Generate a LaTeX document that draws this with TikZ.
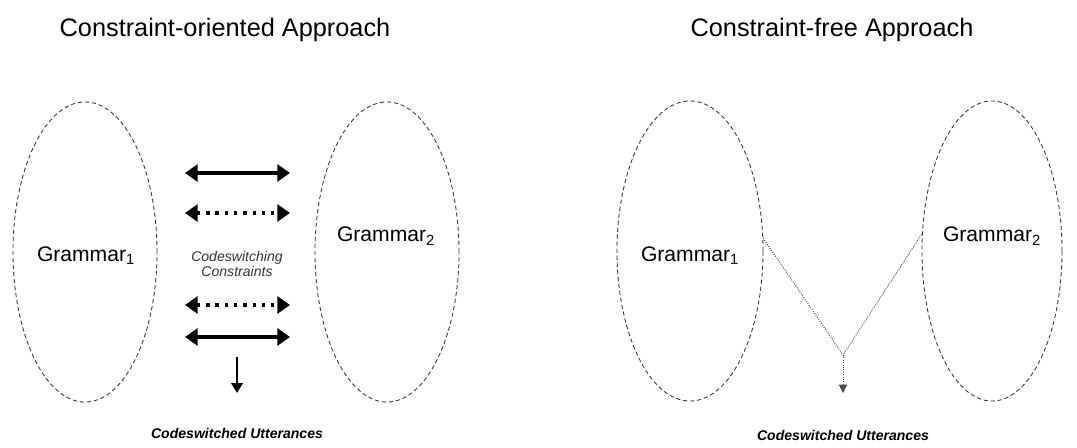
\documentclass[tikz,border=0pt]{standalone}
\usepackage{fontspec}
\setmainfont{Liberation Sans}
\usetikzlibrary{arrows.meta, shapes.geometric, positioning}

\tikzset{
  grammar/.style={draw=black!80, ellipse, densely dashed, line width=0.6pt,
    minimum width=3.6cm, minimum height=7.5cm, inner sep=0pt},
  heading/.style={font=\fontsize{18}{21}\selectfont},
  gname/.style={font=\fontsize{15}{18}\selectfont},
  note/.style={font=\itshape\fontsize{10}{13}\selectfont, text=black!80, align=center},
  result/.style={font=\bfseries\itshape\fontsize{10}{12}\selectfont},
  solidarrow/.style={{Triangle[length=9pt,width=12pt]}-{Triangle[length=9pt,width=12pt]}, line width=2.4pt},
  dotarrow/.style={solidarrow, dash pattern=on 2.4pt off 4.2pt},
  thinline/.style={black!70, densely dotted, line width=0.7pt},
}

\begin{document}
\begin{tikzpicture}[x=0.025cm, y=-0.025cm]
\useasboundingbox (0,0) rectangle (1077,447);

% constraint-oriented side
\node[heading] (hl) at (225,30) {Constraint-oriented Approach};

\node[grammar] (gl1) at (85,252) {};
\node[grammar] (gl2) at (387,252) {};
\node[gname] (tl1) at (86,256) {Grammar\textsubscript{1}};
\node[gname] (tl2) at (386,236) {Grammar\textsubscript{2}};

\foreach \y/\s in {173/solidarrow, 213/dotarrow, 305/dotarrow, 337/solidarrow}{
  \coordinate (w\y) at (185,\y);
  \coordinate (e\y) at (290,\y);
  \draw[\s] (w\y) -- (e\y);
}

\node[note] (cc) at (237,264) {Codeswitching\\[-2pt]Constraints};

\coordinate (dl) at (237,357);
\coordinate (al) at (237,393);
\draw[-{Triangle[length=7pt,width=8pt]}, line width=1.8pt] (dl) -- (al);
\node[result] (ul) at (237,433) {Codeswitched Utterances};

% constraint-free side
\node[heading] (hr) at (832,30) {Constraint-free Approach};

\node[grammar, minimum width=3.65cm] (gr1) at (690,251) {};
\node[grammar, minimum width=3.5cm] (gr2) at (992,251) {};
\node[gname] (tr1) at (690,256) {Grammar\textsubscript{1}};
\node[gname] (tr2) at (992,236) {Grammar\textsubscript{2}};

\coordinate (jn) at (843,355);
\coordinate (ar) at (843,393);
\draw[thinline] (gr1.10) -- (jn) -- (gr2.166);
\draw[thinline, -{Triangle[length=6pt,width=6pt]}] (jn) -- (ar);
\node[result] (ur) at (843,435) {Codeswitched Utterances};

\end{tikzpicture}
\end{document}
